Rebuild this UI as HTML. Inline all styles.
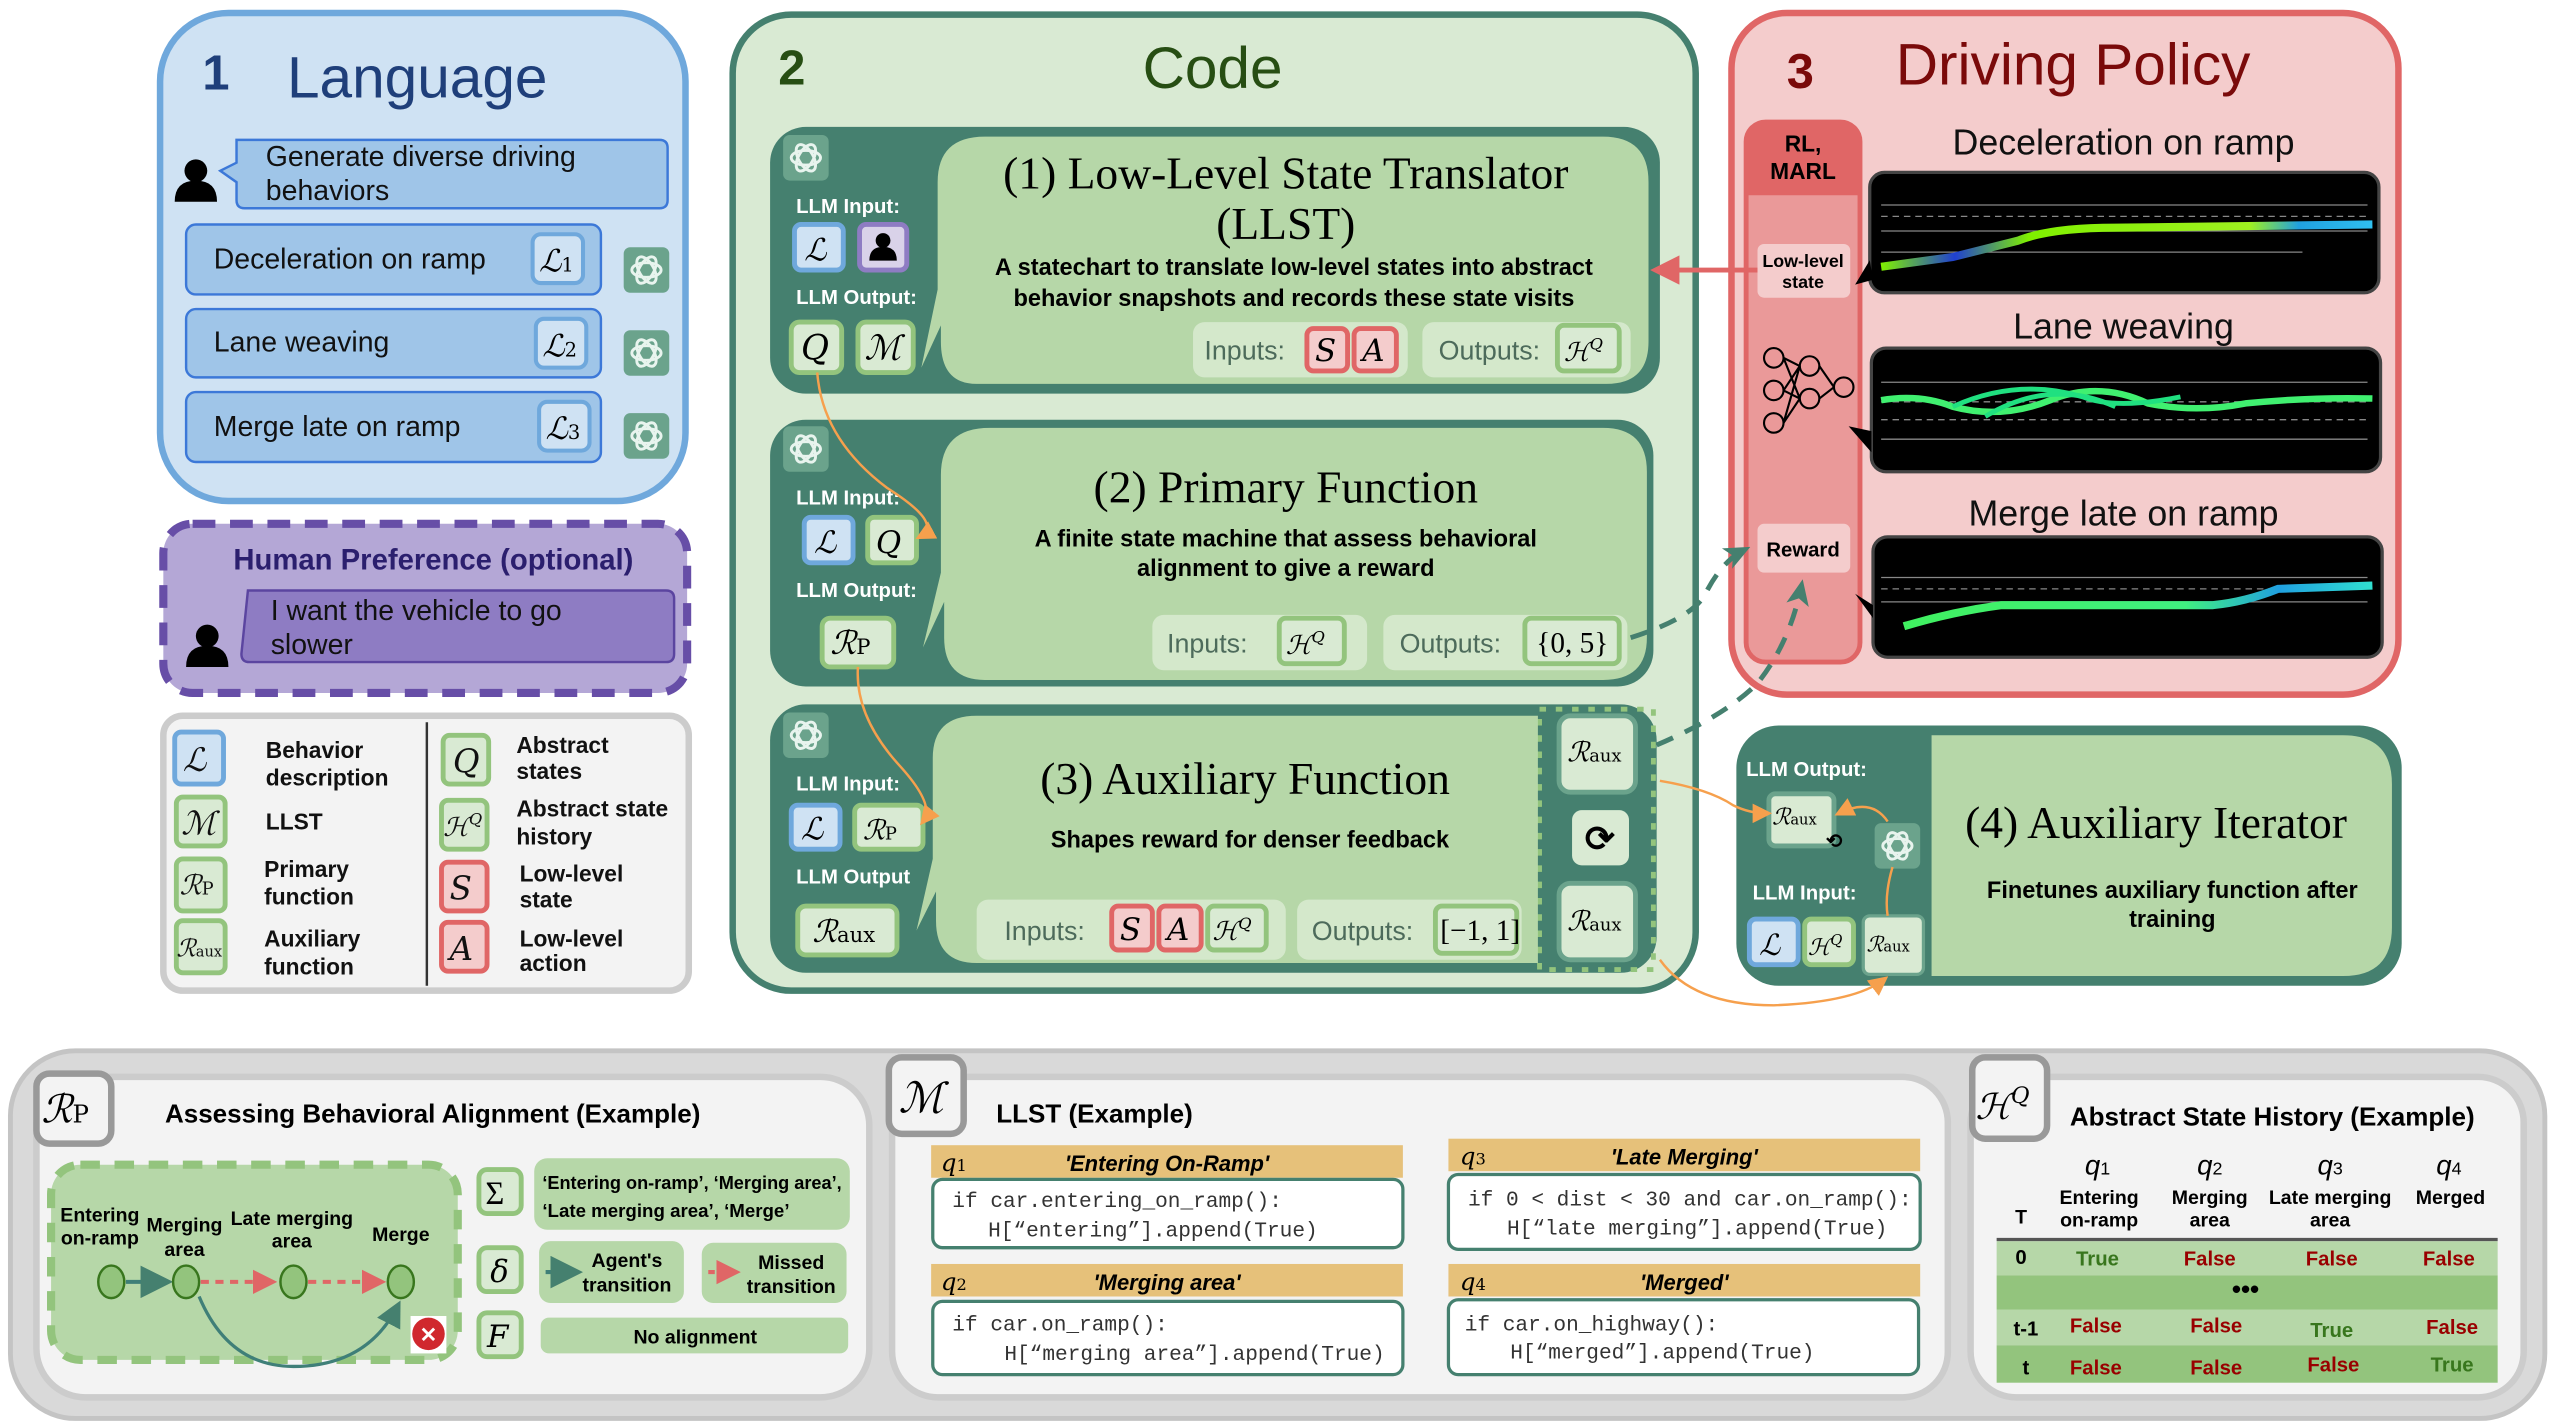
<!DOCTYPE html>
<html><head><meta charset="utf-8"><style>
html,body{margin:0;padding:0;background:#fff;}
svg{display:block;}
text{font-family:"Liberation Sans",sans-serif;}
.b{font-weight:bold;}
.m{font-family:"DejaVu Serif","Liberation Serif",serif;font-style:italic;}
.s{font-family:"Liberation Serif",serif;}
.w{fill:#fff;font-weight:bold;font-size:12.5px;}
.c{font-family:"Liberation Mono",monospace;font-size:13px;fill:#333;}
</style></head><body>
<svg width="2552" height="1425" viewBox="0 0 1568 876" xmlns="http://www.w3.org/2000/svg">
<defs>
<linearGradient id="g1" x1="0" x2="1"><stop offset="0" stop-color="#7ff000"/><stop offset="0.15" stop-color="#2040d0"/><stop offset="0.3" stop-color="#7ff000"/><stop offset="0.75" stop-color="#9ff020"/><stop offset="0.85" stop-color="#20a0e0"/><stop offset="1" stop-color="#30c0f0"/></linearGradient>
<linearGradient id="g3" x1="0" x2="1"><stop offset="0" stop-color="#40f060"/><stop offset="0.6" stop-color="#40f080"/><stop offset="0.8" stop-color="#20a0e0"/><stop offset="1" stop-color="#30e0d0"/></linearGradient>
<marker id="ao" markerWidth="8" markerHeight="8" refX="6" refY="4" orient="auto"><path d="M0,0 L8,4 L0,8 z" fill="#f6a04d"/></marker>
<marker id="at" markerWidth="8" markerHeight="8" refX="6" refY="4" orient="auto"><path d="M0,0 L8,4 L0,8 z" fill="#45806f"/></marker>
<marker id="at2" markerUnits="userSpaceOnUse" markerWidth="16" markerHeight="16" refX="12" refY="8" orient="auto"><path d="M0,1 L16,8 L0,15 L4,8 z" fill="#45806f"/></marker>
<marker id="ar" markerWidth="6" markerHeight="6" refX="4" refY="3" orient="auto"><path d="M0,0 L6,3 L0,6 z" fill="#e06666"/></marker>
<g id="gpt"><rect x="0" y="0" width="28" height="28" rx="4" fill="#6ba38c"/><g fill="none" stroke="#e8f4ee" stroke-width="1.8"><ellipse cx="14" cy="14" rx="9" ry="4.5"/><ellipse cx="14" cy="14" rx="9" ry="4.5" transform="rotate(60 14 14)"/><ellipse cx="14" cy="14" rx="9" ry="4.5" transform="rotate(120 14 14)"/></g></g>
<g id="user"><circle cx="13" cy="9" r="7" fill="#000"/><path d="M0,28 Q0,15 13,15 Q26,15 26,28 z" fill="#000"/></g>
</defs>

<!-- PANEL 1 -->
<rect x="98" y="8" width="323" height="300" rx="42" fill="#cfe2f3" stroke="#6fa8dc" stroke-width="4"/>
<text x="124" y="55" font-size="30" fill="#1f3f7a" class="b">1</text>
<text x="176" y="60" font-size="36" fill="#1f3f7a">Language</text>
<use href="#user" x="107" y="96"/>
<path d="M145,86 H405 Q410,86 410,91 V123 Q410,128 405,128 H150 Q145,128 145,123 V112 L135,105 L145,100 Z" fill="#9fc5e8" stroke="#3c78d8" stroke-width="1.5"/>
<text x="163" y="102" font-size="17.5" fill="#111">Generate diverse driving</text>
<text x="163" y="123" font-size="17.5" fill="#111">behaviors</text>
<g font-size="17.5" fill="#111">
<rect x="114" y="138" width="255" height="43" rx="6" fill="#9fc5e8" stroke="#3c78d8" stroke-width="1.5"/>
<text x="131" y="165">Deceleration on ramp</text>
<rect x="114" y="190" width="255" height="42" rx="6" fill="#9fc5e8" stroke="#3c78d8" stroke-width="1.5"/>
<text x="131" y="216">Lane weaving</text>
<rect x="114" y="241" width="255" height="43" rx="6" fill="#9fc5e8" stroke="#3c78d8" stroke-width="1.5"/>
<text x="131" y="268">Merge late on ramp</text>
</g>
<g>
<rect x="327" y="144" width="31" height="30" rx="5" fill="#cfe2f3" stroke="#6fa8dc" stroke-width="2.5"/><text x="331" y="167" class="m" font-size="19">ℒ<tspan font-size="12" font-style="normal">1</tspan></text>
<rect x="329" y="196" width="31" height="30" rx="5" fill="#cfe2f3" stroke="#6fa8dc" stroke-width="2.5"/><text x="333" y="219" class="m" font-size="19">ℒ<tspan font-size="12" font-style="normal">2</tspan></text>
<rect x="331" y="247" width="31" height="30" rx="5" fill="#cfe2f3" stroke="#6fa8dc" stroke-width="2.5"/><text x="335" y="270" class="m" font-size="19">ℒ<tspan font-size="12" font-style="normal">3</tspan></text>
</g>
<use href="#gpt" x="383" y="152"/><use href="#gpt" x="383" y="203"/><use href="#gpt" x="383" y="254"/>

<!-- Human preference -->
<rect x="100" y="322" width="322" height="104" rx="18" fill="#b4a7d6" stroke="#674ea7" stroke-width="5" stroke-dasharray="14,9"/>
<text x="266" y="350" font-size="18" fill="#2b1f6e" text-anchor="middle" class="b">Human Preference (optional)</text>
<use href="#user" x="114" y="382"/>
<path d="M152,363 H409 Q414,363 414,368 V402 Q414,407 409,407 H153 Q148,407 148,402 Z" fill="#8e7cc3" stroke="#5b45a0" stroke-width="1.5"/>
<text x="166" y="381" font-size="17.5" fill="#111">I want the vehicle to go</text>
<text x="166" y="402" font-size="17.5" fill="#111">slower</text>

<!-- Legend -->
<rect x="100" y="440" width="323" height="169" rx="12" fill="#f3f3f3" stroke="#cccccc" stroke-width="4"/>
<line x1="262" y1="444" x2="262" y2="606" stroke="#333" stroke-width="1.5"/>
<g font-size="14" class="b" fill="#111">
<rect x="107" y="450" width="30" height="32" rx="4" fill="#cfe2f3" stroke="#6fa8dc" stroke-width="3"/><text x="112" y="474" class="m" font-size="20" font-weight="normal">ℒ</text>
<text x="163" y="466">Behavior</text><text x="163" y="483">description</text>
<rect x="108" y="490" width="30" height="30" rx="4" fill="#d9ead3" stroke="#93c47d" stroke-width="3"/><text x="111" y="513" class="m" font-size="20" font-weight="normal">ℳ</text>
<text x="163" y="510">LLST</text>
<rect x="108" y="528" width="30" height="32" rx="4" fill="#d9ead3" stroke="#93c47d" stroke-width="3"/><text x="110" y="550" class="m" font-size="17" font-weight="normal">ℛ<tspan font-size="11" font-style="normal">P</tspan></text>
<text x="162" y="539">Primary</text><text x="162" y="556">function</text>
<rect x="108" y="566" width="30" height="32" rx="4" fill="#d9ead3" stroke="#93c47d" stroke-width="3"/><text x="108" y="588" class="m" font-size="15" font-weight="normal">ℛ<tspan font-size="9" font-style="normal">aux</tspan></text>
<text x="162" y="582">Auxiliary</text><text x="162" y="599">function</text>
<rect x="272" y="452" width="28" height="30" rx="4" fill="#d9ead3" stroke="#93c47d" stroke-width="3"/><text x="278" y="475" class="m" font-size="20" font-weight="normal">Q</text>
<text x="317" y="463">Abstract</text><text x="317" y="479">states</text>
<rect x="271" y="492" width="28" height="30" rx="4" fill="#d9ead3" stroke="#93c47d" stroke-width="3"/><text x="272" y="514" class="m" font-size="16" font-weight="normal">ℋ<tspan font-size="10" dy="-7">Q</tspan></text>
<text x="317" y="502">Abstract state</text><text x="317" y="519">history</text>
<rect x="271" y="530" width="28" height="30" rx="4" fill="#f4cccc" stroke="#e06666" stroke-width="3"/><text x="276" y="553" class="m" font-size="20" font-weight="normal">S</text>
<text x="319" y="542">Low-level</text><text x="319" y="558">state</text>
<rect x="271" y="567" width="28" height="30" rx="4" fill="#f4cccc" stroke="#e06666" stroke-width="3"/><text x="276" y="590" class="m" font-size="20" font-weight="normal">A</text>
<text x="319" y="582">Low-level</text><text x="319" y="597">action</text>
</g>

<!-- PANEL 2 CODE -->
<rect x="450" y="9" width="592" height="600" rx="36" fill="#d9ead3" stroke="#45806f" stroke-width="4"/>
<text x="478" y="52" font-size="30" fill="#274e13" class="b">2</text>
<text x="745" y="54" font-size="36" fill="#274e13" text-anchor="middle">Code</text>

<!-- block 1 -->
<rect x="473" y="78" width="547" height="164" rx="22" fill="#45806f"/>
<path d="M605,84 H985 Q1013,84 1013,112 V210 Q1013,236 987,236 H600 Q578,236 578,210 V200 L566,226 L576,178 V112 Q576,84 605,84 Z" fill="#b6d7a8"/>
<use href="#gpt" x="481" y="83"/>
<text x="489" y="131" class="w">LLM Input:</text>
<rect x="488" y="138" width="30" height="28" rx="4" fill="#cfe2f3" stroke="#6fa8dc" stroke-width="3"/><text x="494" y="160" class="m" font-size="19">ℒ</text>
<rect x="528" y="138" width="29" height="28" rx="4" fill="#d9d2e9" stroke="#8e7cc3" stroke-width="3"/><use href="#user" transform="translate(534,142) scale(0.65)"/>
<text x="489" y="187" class="w">LLM Output:</text>
<rect x="486" y="198" width="31" height="31" rx="5" fill="#d9ead3" stroke="#93c47d" stroke-width="3"/><text x="492" y="221" class="m" font-size="21">Q</text>
<rect x="527" y="198" width="34" height="31" rx="5" fill="#d9ead3" stroke="#93c47d" stroke-width="3"/><text x="531" y="221" class="m" font-size="21">ℳ</text>
<text x="790" y="116" class="s" font-size="28" text-anchor="middle">(1) Low-Level State Translator</text>
<text x="790" y="147" class="s" font-size="28" text-anchor="middle">(LLST)</text>
<text x="795" y="169" font-size="14.5" class="b" text-anchor="middle">A statechart to translate low-level states into abstract</text>
<text x="795" y="188" font-size="14.5" class="b" text-anchor="middle">behavior snapshots and records these state visits</text>
<rect x="733" y="198" width="132" height="34" rx="7" fill="#d4e8cb"/>
<text x="740" y="221" font-size="16.5" fill="#4d6b5b">Inputs:</text>
<rect x="803" y="202" width="25" height="26" rx="4" fill="#f4cccc" stroke="#e06666" stroke-width="3"/><text x="808" y="222" class="m" font-size="19">S</text>
<rect x="832" y="202" width="26" height="26" rx="4" fill="#f4cccc" stroke="#e06666" stroke-width="3"/><text x="837" y="222" class="m" font-size="19">A</text>
<rect x="874" y="198" width="128" height="34" rx="7" fill="#d4e8cb"/>
<text x="884" y="221" font-size="16.5" fill="#4d6b5b">Outputs:</text>
<rect x="957" y="200" width="38" height="28" rx="4" fill="#d9ead3" stroke="#93c47d" stroke-width="3"/><text x="961" y="222" class="m" font-size="16">ℋ<tspan font-size="10" dy="-7">Q</tspan></text>

<!-- block 2 -->
<rect x="473" y="258" width="543" height="164" rx="22" fill="#45806f"/>
<path d="M608,263 H985 Q1012,263 1012,290 V392 Q1012,418 985,418 H605 Q580,418 580,392 V370 L567,398 L578,352 V292 Q578,263 608,263 Z" fill="#b6d7a8"/>
<use href="#gpt" x="481" y="262"/>
<text x="489" y="310" class="w">LLM Input:</text>
<rect x="494" y="318" width="30" height="28" rx="4" fill="#cfe2f3" stroke="#6fa8dc" stroke-width="3"/><text x="500" y="340" class="m" font-size="19">ℒ</text>
<rect x="533" y="318" width="30" height="28" rx="4" fill="#d9ead3" stroke="#93c47d" stroke-width="3"/><text x="538" y="340" class="m" font-size="19">Q</text>
<text x="489" y="367" class="w">LLM Output:</text>
<rect x="505" y="380" width="44" height="30" rx="5" fill="#d9ead3" stroke="#93c47d" stroke-width="3"/><text x="510" y="402" class="m" font-size="20">ℛ<tspan font-size="13" font-style="normal">P</tspan></text>
<text x="790" y="309" class="s" font-size="28" text-anchor="middle">(2) Primary Function</text>
<text x="790" y="336" font-size="14.5" class="b" text-anchor="middle">A finite state machine that assess behavioral</text>
<text x="790" y="354" font-size="14.5" class="b" text-anchor="middle">alignment to give a reward</text>
<rect x="708" y="378" width="132" height="34" rx="7" fill="#d4e8cb"/>
<text x="717" y="401" font-size="16.5" fill="#4d6b5b">Inputs:</text>
<rect x="786" y="380" width="40" height="28" rx="4" fill="#d9ead3" stroke="#93c47d" stroke-width="3"/><text x="790" y="402" class="m" font-size="16">ℋ<tspan font-size="10" dy="-7">Q</tspan></text>
<rect x="850" y="378" width="150" height="34" rx="7" fill="#d4e8cb"/>
<text x="860" y="401" font-size="16.5" fill="#4d6b5b">Outputs:</text>
<rect x="937" y="380" width="58" height="28" rx="4" fill="#d9ead3" stroke="#93c47d" stroke-width="3"/><text x="944" y="401" class="s" font-size="18">{0, 5}</text>

<!-- block 3 -->
<rect x="473" y="433" width="545" height="165" rx="22" fill="#45806f"/>
<rect x="946" y="436" width="70" height="160" fill="none" stroke="#93c47d" stroke-width="3" stroke-dasharray="4,6"/>
<path d="M600,440 H945 V592 H600 Q575,592 575,566 V548 L563,572 L573,528 V466 Q573,440 600,440 Z" fill="#b6d7a8"/>
<use href="#gpt" x="481" y="438"/>
<text x="489" y="486" class="w">LLM Input:</text>
<rect x="486" y="495" width="30" height="27" rx="4" fill="#cfe2f3" stroke="#6fa8dc" stroke-width="3"/><text x="492" y="516" class="m" font-size="19">ℒ</text>
<rect x="525" y="495" width="42" height="27" rx="4" fill="#d9ead3" stroke="#93c47d" stroke-width="3"/><text x="530" y="516" class="m" font-size="17">ℛ<tspan font-size="11" font-style="normal">P</tspan></text>
<text x="489" y="543" class="w">LLM Output</text>
<rect x="490" y="557" width="61" height="30" rx="5" fill="#d9ead3" stroke="#93c47d" stroke-width="3"/><text x="499" y="579" class="m" font-size="19">ℛ<tspan font-size="13" font-style="normal">aux</tspan></text>
<text x="765" y="488" class="s" font-size="28" text-anchor="middle">(3) Auxiliary Function</text>
<text x="768" y="521" font-size="14.5" class="b" text-anchor="middle">Shapes reward for denser feedback</text>
<rect x="600" y="553" width="190" height="37" rx="7" fill="#d4e8cb"/>
<text x="617" y="578" font-size="16.5" fill="#4d6b5b">Inputs:</text>
<rect x="683" y="557" width="25" height="27" rx="4" fill="#f4cccc" stroke="#e06666" stroke-width="3"/><text x="688" y="578" class="m" font-size="19">S</text>
<rect x="712" y="557" width="26" height="27" rx="4" fill="#f4cccc" stroke="#e06666" stroke-width="3"/><text x="717" y="578" class="m" font-size="19">A</text>
<rect x="742" y="557" width="36" height="27" rx="4" fill="#d9ead3" stroke="#93c47d" stroke-width="3"/><text x="745" y="578" class="m" font-size="16">ℋ<tspan font-size="10" dy="-7">Q</tspan></text>
<rect x="797" y="553" width="138" height="37" rx="7" fill="#d4e8cb"/>
<text x="806" y="578" font-size="16.5" fill="#4d6b5b">Outputs:</text>
<rect x="882" y="557" width="50" height="29" rx="4" fill="#d9ead3" stroke="#93c47d" stroke-width="3"/><text x="885" y="578" class="s" font-size="18">[−1, 1]</text>
<rect x="958" y="440" width="47" height="47" rx="7" fill="#d9ead3" stroke="#6ba38c" stroke-width="3"/><text x="963" y="468" class="m" font-size="17">ℛ<tspan font-size="11" font-style="normal">aux</tspan></text>
<rect x="966" y="498" width="35" height="34" rx="6" fill="#d9ead3"/><text x="983" y="523" font-size="22" class="b" text-anchor="middle">⟳</text>
<rect x="958" y="543" width="47" height="47" rx="7" fill="#d9ead3" stroke="#6ba38c" stroke-width="3"/><text x="963" y="572" class="m" font-size="17">ℛ<tspan font-size="11" font-style="normal">aux</tspan></text>

<!-- PANEL 3 -->
<rect x="1064" y="8" width="410" height="419" rx="34" fill="#f4cccc" stroke="#e06666" stroke-width="4"/>
<text x="1098" y="54" font-size="30" fill="#7a0a0a" class="b">3</text>
<text x="1165" y="52" font-size="36" fill="#7a0a0a">Driving Policy</text>
<rect x="1073" y="75" width="70" height="332" rx="12" fill="#ea9999" stroke="#e06666" stroke-width="3"/>
<path d="M1073,87 Q1073,75 1085,75 H1131 Q1143,75 1143,87 V120 H1073 Z" fill="#e06666"/>
<text x="1108" y="93" font-size="14" class="b" text-anchor="middle">RL,</text>
<text x="1108" y="110" font-size="14" class="b" text-anchor="middle">MARL</text>
<rect x="1080" y="150" width="57" height="33" rx="4" fill="#f4cccc"/>
<text x="1108" y="164" font-size="11" class="b" text-anchor="middle">Low-level</text>
<text x="1108" y="177" font-size="11" class="b" text-anchor="middle">state</text>
<g stroke="#000" stroke-width="1.3" fill="none">
<circle cx="1090" cy="220" r="6"/><circle cx="1090" cy="240" r="6"/><circle cx="1090" cy="260" r="6"/>
<circle cx="1112" cy="225" r="6"/><circle cx="1112" cy="245" r="6"/><circle cx="1133" cy="238" r="6"/>
<path d="M1096,220 L1106,225 M1096,220 L1106,245 M1096,240 L1106,225 M1096,240 L1106,245 M1096,260 L1106,245 M1096,260 L1106,225 M1118,225 L1127,238 M1118,245 L1127,238"/>
</g>
<rect x="1080" y="322" width="57" height="30" rx="4" fill="#f4cccc"/>
<text x="1108" y="342" font-size="12.5" class="b" text-anchor="middle">Reward</text>
<g font-size="22" text-anchor="middle" fill="#111">
<text x="1305" y="95">Deceleration on ramp</text>
<text x="1305" y="208">Lane weaving</text>
<text x="1305" y="323">Merge late on ramp</text>
</g>
<g stroke="#444" stroke-width="2">
<rect x="1149" y="106" width="313" height="74" rx="9" fill="#000"/>
<rect x="1150" y="214" width="313" height="76" rx="9" fill="#000"/>
<rect x="1151" y="330" width="313" height="74" rx="9" fill="#000"/>
</g>
<path d="M1149,160 L1140,175 L1151,172Z M1150,265 L1136,262 L1150,278Z M1151,372 L1140,365 L1151,380Z" fill="#000"/>
<g stroke="#888" stroke-width="0.8" fill="none">
<path d="M1156,126 H1455 M1156,142 H1455 M1156,155 H1415"/><path d="M1156,133 H1455" stroke-dasharray="4,3"/>
<path d="M1156,235 H1455 M1156,270 H1455"/><path d="M1156,247 H1455 M1156,258 H1455" stroke-dasharray="4,3"/>
<path d="M1156,355 H1455 M1156,370 H1455"/><path d="M1156,362 H1455" stroke-dasharray="4,3"/>
</g>
<path d="M1156,164 L1200,158 L1240,148 Q1260,140 1300,140 L1458,138" stroke="url(#g1)" stroke-width="5" fill="none"/>
<path d="M1156,246 Q1180,242 1200,250 Q1230,258 1260,246 Q1290,234 1320,248 Q1350,254 1380,248 Q1420,244 1458,245" stroke="#40f070" stroke-width="4" fill="none"/>
<path d="M1200,250 Q1240,232 1280,244 Q1300,252 1340,244 M1220,256 Q1260,232 1300,250" stroke="#20e080" stroke-width="3" fill="none"/>
<path d="M1170,385 Q1200,376 1230,372 L1360,372 Q1380,370 1400,362 L1458,360" stroke="url(#g3)" stroke-width="5" fill="none"/>
<!-- red arrow -->
<line x1="1080" y1="166" x2="1020" y2="166" stroke="#e06666" stroke-width="3" marker-end="url(#ar)"/>

<!-- PANEL 4 -->
<rect x="1067" y="446" width="409" height="160" rx="26" fill="#45806f"/>
<path d="M1187,452 H1440 Q1470,452 1470,482 V570 Q1470,600 1440,600 H1187 Z" fill="#b6d7a8"/>
<text x="1073" y="477" class="w">LLM Output:</text>
<rect x="1087" y="488" width="40" height="32" rx="4" fill="#d9ead3" stroke="#6ba38c" stroke-width="3"/><text x="1089" y="507" class="m" font-size="14">ℛ<tspan font-size="9" font-style="normal">aux</tspan></text>
<text x="1122" y="521" font-size="12" class="b">⟲</text>
<use href="#gpt" x="1152" y="506"/>
<text x="1077" y="553" class="w">LLM Input:</text>
<rect x="1075" y="565" width="30" height="28" rx="4" fill="#cfe2f3" stroke="#6fa8dc" stroke-width="3"/><text x="1081" y="587" class="m" font-size="18">ℒ</text>
<rect x="1109" y="565" width="30" height="28" rx="4" fill="#d9ead3" stroke="#93c47d" stroke-width="3"/><text x="1111" y="587" class="m" font-size="14">ℋ<tspan font-size="9" dy="-6">Q</tspan></text>
<rect x="1145" y="563" width="37" height="36" rx="4" fill="#d9ead3" stroke="#6ba38c" stroke-width="2"/><text x="1147" y="585" class="m" font-size="13">ℛ<tspan font-size="9" font-style="normal">aux</tspan></text>
<text x="1325" y="515" class="s" font-size="28" text-anchor="middle">(4) Auxiliary Iterator</text>
<text x="1335" y="552" font-size="14.5" class="b" text-anchor="middle">Finetunes auxiliary function after</text>
<text x="1335" y="570" font-size="14.5" class="b" text-anchor="middle">training</text>

<!-- connectors -->
<g fill="none" stroke="#f6a04d" stroke-width="1.5">
<path d="M502,229 Q505,270 545,300 Q580,322 565,330" marker-end="url(#ao)"/>
<path d="M527,410 Q525,440 552,470 Q575,495 567,505" marker-end="url(#ao)"/>
<path d="M1020,480 Q1050,485 1065,495 Q1075,500 1086,500" marker-end="url(#ao)"/>
<path d="M1160,505 Q1150,490 1130,500" marker-end="url(#ao)"/>
<path d="M1163,533 Q1158,550 1160,563"/>
<path d="M1020,590 Q1040,618 1090,618 Q1140,616 1158,602" marker-end="url(#ao)"/>
</g>
<g fill="none" stroke="#45806f" stroke-width="3" stroke-dasharray="11,8">
<path d="M1002,392 Q1040,380 1048,365 Q1058,345 1072,338" marker-end="url(#at2)"/>
<path d="M1018,458 Q1060,440 1080,420 Q1100,395 1107,360" marker-end="url(#at2)"/>
</g>

<!-- BOTTOM -->
<rect x="6" y="646" width="1558" height="226" rx="40" fill="#d9d9d9" stroke="#c4c4c4" stroke-width="3"/>
<!-- A -->
<rect x="22" y="662" width="512" height="197" rx="30" fill="#f3f3f3" stroke="#cccccc" stroke-width="4"/>
<rect x="22" y="660" width="46" height="43" rx="8" fill="#f3f3f3" stroke="#999" stroke-width="4"/>
<text x="25" y="690" class="m" font-size="24">ℛ<tspan font-size="15" font-style="normal">P</tspan></text>
<text x="101" y="690" font-size="16" class="b">Assessing Behavioral Alignment (Example)</text>
<rect x="31" y="716" width="250" height="120" rx="18" fill="#b6d7a8" stroke="#93c47d" stroke-width="5" stroke-dasharray="12,9"/>
<g font-size="12" class="b" text-anchor="middle">
<text x="61" y="751">Entering</text><text x="61" y="765">on-ramp</text>
<text x="113" y="757">Merging</text><text x="113" y="772">area</text>
<text x="179" y="753">Late merging</text><text x="179" y="767">area</text>
<text x="246" y="763">Merge</text>
</g>
<path d="M122,797 Q140,840 180,840 Q225,840 244,803" fill="none" stroke="#3f7f78" stroke-width="2" marker-end="url(#at)"/>
<line x1="77" y1="788" x2="101" y2="788" stroke="#3f7f78" stroke-width="2.5" marker-end="url(#at)"/>
<line x1="123" y1="788" x2="165" y2="788" stroke="#e06666" stroke-width="2.5" stroke-dasharray="5,4" marker-end="url(#ar)"/>
<line x1="189" y1="788" x2="232" y2="788" stroke="#e06666" stroke-width="2.5" stroke-dasharray="5,4" marker-end="url(#ar)"/>
<g fill="#93c47d" stroke="#38761d" stroke-width="1.5">
<ellipse cx="68" cy="788" rx="8" ry="10"/><ellipse cx="114" cy="788" rx="8" ry="10"/><ellipse cx="180" cy="788" rx="8" ry="10"/><ellipse cx="246" cy="788" rx="8" ry="10"/>
</g>
<rect x="252" y="809" width="22" height="23" fill="#fff"/><circle cx="263" cy="820" r="10" fill="#d0282e"/><text x="263" y="825" font-size="13" fill="#fff" text-anchor="middle" class="b">✕</text>
<rect x="294" y="719" width="26" height="27" rx="5" fill="#d9ead3" stroke="#93c47d" stroke-width="3"/><text x="298" y="740" class="s" font-size="20">Σ</text>
<rect x="328" y="712" width="194" height="44" rx="8" fill="#b6d7a8"/>
<text x="333" y="731" font-size="11.5" class="b" textLength="184" lengthAdjust="spacingAndGlyphs">‘Entering on-ramp’, ‘Merging area’,</text>
<text x="333" y="748" font-size="11.5" class="b">‘Late merging area’, ‘Merge’</text>
<rect x="294" y="767" width="26" height="27" rx="5" fill="#d9ead3" stroke="#93c47d" stroke-width="3"/><text x="301" y="788" class="m" font-size="19">δ</text>
<rect x="331" y="763" width="89" height="38" rx="7" fill="#b6d7a8"/>
<line x1="335" y1="782" x2="353" y2="782" stroke="#3f7f78" stroke-width="2.5" marker-end="url(#at)"/>
<text x="385" y="779" font-size="12" class="b" text-anchor="middle">Agent's</text><text x="385" y="794" font-size="12" class="b" text-anchor="middle">transition</text>
<rect x="431" y="764" width="89" height="37" rx="7" fill="#b6d7a8"/>
<line x1="435" y1="782" x2="450" y2="782" stroke="#e06666" stroke-width="2.5" stroke-dasharray="4,3" marker-end="url(#ar)"/>
<text x="486" y="780" font-size="12" class="b" text-anchor="middle">Missed</text><text x="486" y="795" font-size="12" class="b" text-anchor="middle">transition</text>
<rect x="294" y="807" width="26" height="27" rx="5" fill="#d9ead3" stroke="#93c47d" stroke-width="3"/><text x="299" y="828" class="m" font-size="19">F</text>
<rect x="332" y="810" width="189" height="22" rx="5" fill="#b6d7a8"/>
<text x="427" y="826" font-size="12" class="b" text-anchor="middle">No alignment</text>

<!-- B -->
<rect x="548" y="662" width="649" height="197" rx="28" fill="#f3f3f3" stroke="#cccccc" stroke-width="4"/>
<rect x="546" y="650" width="46" height="47" rx="8" fill="#f3f3f3" stroke="#999" stroke-width="4"/>
<text x="552" y="684" class="m" font-size="26">ℳ</text>
<text x="612" y="690" font-size="16" class="b">LLST (Example)</text>
<g>
<rect x="572" y="704" width="290" height="20" fill="#e6c17a"/>
<text x="578" y="720" class="m" font-size="15">q<tspan font-size="10" font-style="normal">1</tspan></text>
<text x="717" y="720" font-size="13.5" class="b" font-style="italic" text-anchor="middle">'Entering On-Ramp'</text>
<rect x="573" y="725" width="289" height="42" rx="6" fill="#fff" stroke="#45806f" stroke-width="2"/>
<text x="585" y="742" class="c">if car.entering_on_ramp():</text><text x="607" y="760" class="c">H[“entering”].append(True)</text>
<rect x="890" y="700" width="290" height="20" fill="#e6c17a"/>
<text x="897" y="716" class="m" font-size="15">q<tspan font-size="10" font-style="normal">3</tspan></text>
<text x="1035" y="716" font-size="13.5" class="b" font-style="italic" text-anchor="middle">'Late Merging'</text>
<rect x="890" y="722" width="290" height="46" rx="6" fill="#fff" stroke="#45806f" stroke-width="2"/>
<text x="902" y="741" class="c">if 0 &lt; dist &lt; 30 and car.on_ramp():</text><text x="926" y="759" class="c">H[“late merging”].append(True)</text>
<rect x="572" y="777" width="290" height="20" fill="#e6c17a"/>
<text x="578" y="793" class="m" font-size="15">q<tspan font-size="10" font-style="normal">2</tspan></text>
<text x="717" y="793" font-size="13.5" class="b" font-style="italic" text-anchor="middle">'Merging area'</text>
<rect x="573" y="800" width="289" height="45" rx="6" fill="#fff" stroke="#45806f" stroke-width="2"/>
<text x="585" y="818" class="c">if car.on_ramp():</text><text x="617" y="836" class="c">H[“merging area”].append(True)</text>
<rect x="890" y="777" width="290" height="20" fill="#e6c17a"/>
<text x="897" y="793" class="m" font-size="15">q<tspan font-size="10" font-style="normal">4</tspan></text>
<text x="1035" y="793" font-size="13.5" class="b" font-style="italic" text-anchor="middle">'Merged'</text>
<rect x="890" y="799" width="289" height="46" rx="6" fill="#fff" stroke="#45806f" stroke-width="2"/>
<text x="900" y="818" class="c">if car.on_highway():</text><text x="928" y="835" class="c">H[“merged”].append(True)</text>
</g>

<!-- C -->
<rect x="1211" y="662" width="340" height="197" rx="28" fill="#f3f3f3" stroke="#cccccc" stroke-width="4"/>
<rect x="1212" y="650" width="46" height="50" rx="8" fill="#f3f3f3" stroke="#999" stroke-width="4"/>
<text x="1214" y="688" class="m" font-size="22">ℋ<tspan font-size="14" dy="-10">Q</tspan></text>
<text x="1272" y="692" font-size="16" class="b">Abstract State History (Example)</text>
<g class="m" font-size="17" text-anchor="middle"><text x="1289" y="722">q<tspan font-size="11" font-style="normal">1</tspan></text><text x="1358" y="722">q<tspan font-size="11" font-style="normal">2</tspan></text><text x="1432" y="722">q<tspan font-size="11" font-style="normal">3</tspan></text><text x="1505" y="722">q<tspan font-size="11" font-style="normal">4</tspan></text></g>
<g font-size="12" class="b" text-anchor="middle">
<text x="1242" y="752">T</text>
<text x="1290" y="740">Entering</text><text x="1290" y="754">on-ramp</text>
<text x="1358" y="740">Merging</text><text x="1358" y="754">area</text>
<text x="1432" y="740">Late merging</text><text x="1432" y="754">area</text>
<text x="1506" y="740">Merged</text>
</g>
<rect x="1227" y="763" width="308" height="21" fill="#b6d7a8"/>
<rect x="1227" y="784" width="308" height="21" fill="#93c47d"/>
<rect x="1227" y="805" width="308" height="22" fill="#b6d7a8"/>
<rect x="1227" y="827" width="308" height="23" fill="#93c47d"/>
<line x1="1227" y1="762" x2="1535" y2="762" stroke="#555" stroke-width="2"/>
<g font-size="12.5" class="b" text-anchor="middle">
<text x="1242" y="777">0</text><text x="1289" y="778" fill="#38761d">True</text><text x="1358" y="778" fill="#990000">False</text><text x="1433" y="778" fill="#990000">False</text><text x="1505" y="778" fill="#990000">False</text>
<text x="1380" y="798" font-size="16">•••</text>
<text x="1245" y="821">t-1</text><text x="1288" y="819" fill="#990000">False</text><text x="1362" y="819" fill="#990000">False</text><text x="1433" y="822" fill="#38761d">True</text><text x="1507" y="820" fill="#990000">False</text>
<text x="1245" y="845">t</text><text x="1288" y="845" fill="#990000">False</text><text x="1362" y="845" fill="#990000">False</text><text x="1434" y="843" fill="#990000">False</text><text x="1507" y="843" fill="#38761d">True</text>
</g>
</svg>
</body></html>
